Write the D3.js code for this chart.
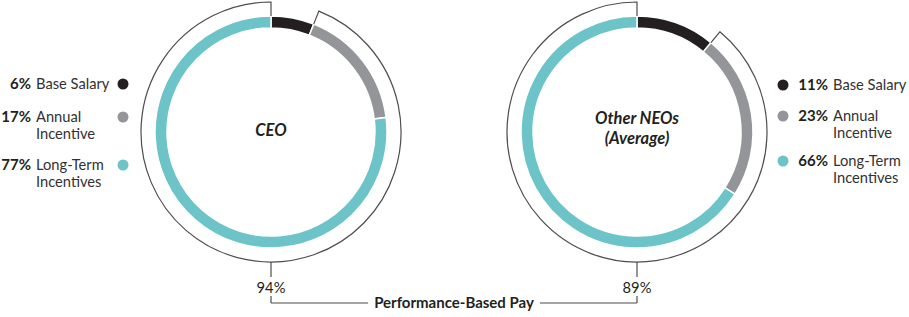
<!DOCTYPE html>
<html lang="en">
<head>
  <meta charset="UTF-8">
  <title>Pay Mix</title>
  <script src="https://d3js.org/d3.v7.min.js"></script>
  <style>
    body { margin: 0; background: #ffffff; font-family: "Lato", "Open Sans", sans-serif; }
    .lbl { fill: #333132; font-size: 14.7px; }
    .pct { fill: #231f20; font-size: 15px; font-weight: 700; }
    .center { fill: #231f20; font-size: 16.5px; font-weight: 700; font-style: italic; }
    .outline { fill: none; stroke: #4d4d4f; stroke-width: 1.2; }
  </style>
</head>
<body>
  <script>
    // data
    const groups = ["CEO", "Other NEOs|(Average)"];
    const components = ["Base Salary", "Annual|Incentive", "Long-Term|Incentives"];
    const ceoShares = [6, 17, 77];
    const neoShares = [11, 23, 66];
    const perfBased = ["94%", "89%"];
    const colors = ["#231f20", "#939598", "#6cc3c8"];

    const width = 909, height = 317;
    const rOuter = 116, rInner = 104, rLine = 130;
    const cy = 132;

    const svg = d3.select("body").append("svg")
      .attr("width", width)
      .attr("height", height);

    const x = d3.scalePoint().domain(groups).range([271, 637]);

    const pie = d3.pie().sort(null).value(d => d);
    const arc = d3.arc().innerRadius(rInner).outerRadius(rOuter);

    // legend layout per chart
    const legendCfg = [
      {dot: 123, pct: 31, text: 36, rows: [84, 117, 165]},
      {dot: 783, pct: 828, text: 833, rows: [85, 116, 161]}
    ];

    [ceoShares, neoShares].forEach(function (shares, i) {
      const cx = x(groups[i]);
      const g = svg.append("g").attr("transform", "translate(" + cx + "," + cy + ")");
      const arcs = pie(shares);

      g.selectAll("path.seg")
        .data(arcs)
        .enter().append("path")
        .attr("class", "seg")
        .attr("d", arc)
        .attr("fill", (d, j) => colors[j])
        .attr("stroke", "#fff")
        .attr("stroke-width", 1.5);

      // outline around performance-based part
      const a0 = arcs[1].startAngle, a1 = arcs[2].endAngle;
      const p = d3.path();
      p.moveTo(rOuter * Math.sin(a0), -rOuter * Math.cos(a0));
      p.lineTo(rLine * Math.sin(a0), -rLine * Math.cos(a0));
      p.arc(0, 0, rLine, a0 - Math.PI / 2, a1 - Math.PI / 2);
      p.lineTo(rOuter * Math.sin(a1), -rOuter * Math.cos(a1));
      g.append("path").attr("class", "outline").attr("d", p.toString());

      // center label, one text per line
      const lines = groups[i].split("|");
      g.selectAll("text.center")
        .data(lines)
        .enter().append("text")
        .attr("class", "center")
        .attr("text-anchor", "middle")
        .attr("x", 0)
        .attr("y", (d, j) => (lines.length === 1 ? 4 : -8 + j * 20))
        .text(d => d);

      // legend
      const cfg = legendCfg[i];
      components.forEach(function (c, j) {
        const y = cfg.rows[j];
        svg.append("circle")
          .attr("cx", cfg.dot)
          .attr("cy", y)
          .attr("r", 5.5)
          .attr("fill", colors[j]);
        svg.append("text")
          .attr("class", "pct")
          .attr("x", cfg.pct)
          .attr("y", y + 5)
          .attr("text-anchor", "end")
          .text(shares[j] + "%");
        const t = svg.append("text").attr("class", "lbl");
        c.split("|").forEach(function (s, k) {
          t.append("tspan")
            .attr("x", cfg.text)
            .attr("y", y + 5 + k * 17)
            .text(s);
        });
      });

      // performance-based connector
      svg.append("line").attr("class", "outline")
        .attr("x1", cx).attr("x2", cx)
        .attr("y1", cy + rLine).attr("y2", 277);
      svg.append("text")
        .attr("class", "lbl")
        .style("fill", "#231f20")
        .attr("x", cx)
        .attr("y", 293)
        .attr("text-anchor", "middle")
        .text(perfBased[i]);
      svg.append("line").attr("class", "outline")
        .attr("x1", cx).attr("x2", cx)
        .attr("y1", 296).attr("y2", 303);
    });

    const mid = (x(groups[0]) + x(groups[1])) / 2;
    const title = svg.append("text")
      .attr("class", "pct")
      .attr("x", mid)
      .attr("y", 308)
      .attr("text-anchor", "middle")
      .text("Performance-Based Pay");
    const tw = title.node().getComputedTextLength();
    svg.append("line").attr("class", "outline")
      .attr("x1", x(groups[0])).attr("x2", mid - tw / 2 - 6)
      .attr("y1", 303).attr("y2", 303);
    svg.append("line").attr("class", "outline")
      .attr("x1", mid + tw / 2 + 6).attr("x2", x(groups[1]))
      .attr("y1", 303).attr("y2", 303);
  </script>
</body>
</html>
